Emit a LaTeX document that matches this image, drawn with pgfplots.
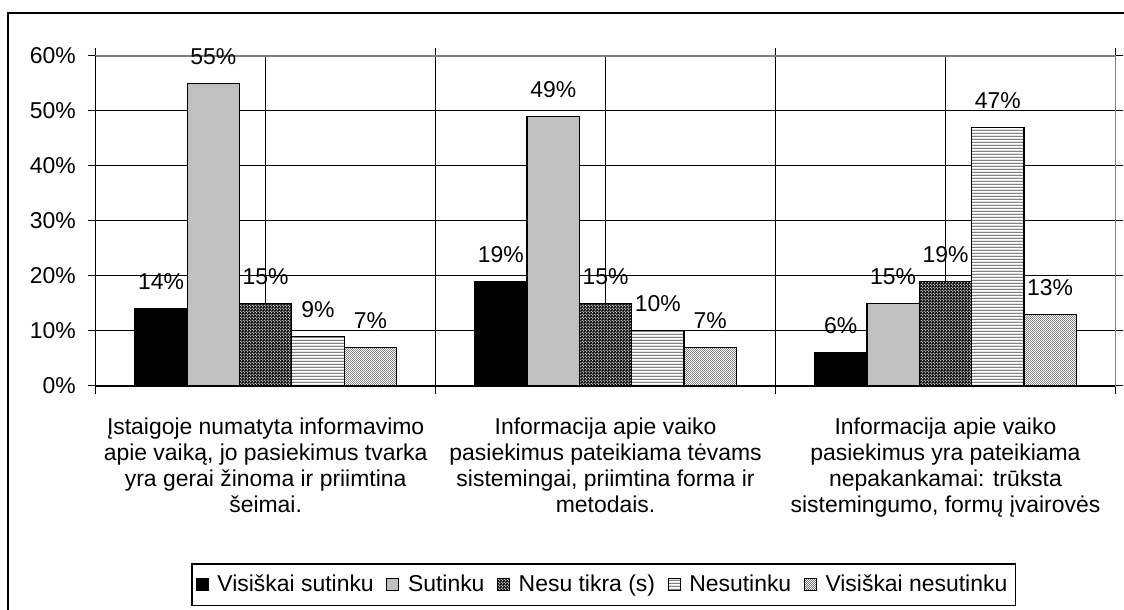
\documentclass[border=0pt]{standalone}
\usepackage{pgfplots}
\pgfplotsset{compat=1.18}
\usepackage{fontspec}
\setmainfont{Liberation Sans}
\usetikzlibrary{patterns,patterns.meta}

\tikzdeclarepattern{name=densecross,type=uncolored,
  bottom left={(0,0)},top right={(1.6bp,1.6bp)},tile size={(1.6bp,1.6bp)},
  code={\draw[line width=0.5bp] (0,0)--(1.6bp,1.6bp) (0,1.6bp)--(1.6bp,0);}}
\tikzdeclarepattern{name=denselines,type=uncolored,
  bottom left={(0,0)},top right={(1bp,1.7bp)},tile size={(1bp,1.7bp)},
  code={\draw[line width=0.45bp] (0,0.4bp)--(1bp,0.4bp);}}
\tikzdeclarepattern{name=finedots,type=uncolored,
  bottom left={(0,0)},top right={(1.2bp,1.2bp)},tile size={(1.2bp,1.2bp)},
  code={\fill (0.3bp,0.3bp) circle (0.32bp); \fill (0.9bp,0.9bp) circle (0.32bp);}}

% values in percent
\pgfplotstableread{
x v1 v2 v3 v4 v5
0 14 55 15 9 7
1 19 49 15 10 7
2 6 15 19 47 13
}\datatab

\begin{document}
\begin{tikzpicture}[font=\fontsize{11.5bp}{13bp}\selectfont]
\begin{axis}[
  scale only axis, width=511.5bp, height=165.5bp,
  xmin=-0.5, xmax=2.5, ymin=0, ymax=60,
  ybar=0pt, bar width=0.154,
  xtick={0,1,2},
  xticklabels={{Įstaigoje numatyta informavimo\\apie vaiką, jo pasiekimus tvarka\\yra gerai žinoma ir priimtina\\šeimai.},
    {Informacija apie vaiko\\pasiekimus pateikiama tėvams\\sistemingai, priimtina forma ir\\metodais.},
    {Informacija apie vaiko\\pasiekimus yra pateikiama\\nepakankamai: trūksta\\sistemingumo, formų įvairovės}},
  xticklabel style={align=center, yshift=-8.5bp, font=\fontsize{11.5bp}{13bp}\selectfont},
  major x tick style={draw=none},
  minor xtick={-0.5,0.5,1.5,2.5},
  minor x tick style={black, line width=0.6bp},
  xmajorgrids, xminorgrids,
  ytick={0,10,...,60},
  yticklabel={\pgfmathprintnumber{\tick}\%},
  yticklabel style={xshift=-2.5bp},
  /pgf/number format/assume math mode=true,
  ymajorgrids,
  grid style={black, line width=0.6bp},
  tick align=outside, major tick length=4bp, minor tick length=4bp,
  y tick style={black, line width=0.6bp},
  axis line style={draw=gray, line width=0.8bp},
  nodes near coords={\pgfmathprintnumber{\pgfplotspointmeta}\%},
  every node near coord/.append style={anchor=center, yshift=13.5bp, font=\fontsize{11.5bp}{13bp}\selectfont},
  clip=false,
  legend columns=5,
  legend style={at={(0.498,-0.538)}, anchor=north, draw=black, line width=0.8bp,
    font=\fontsize{11.5bp}{13bp}\selectfont, inner ysep=3.5bp, inner xsep=2bp,
    /tikz/every odd column/.append style={column sep=2.5bp},
    /tikz/every even column/.append style={column sep=4.3bp}},
  legend image code/.code={\draw[#1, line width=0.4bp] (0bp,-3bp) rectangle (6bp,3bp);},
  legend cell align=left,
]
\addplot[draw=black, fill=black, line width=0.6bp] table[x=x,y=v1] {\datatab};
\addplot[draw=black, fill={rgb,255:red,192;green,192;blue,192}, line width=0.6bp] table[x=x,y=v2] {\datatab};
\addplot[draw=black, fill=white, postaction={pattern=densecross}, line width=0.6bp] table[x=x,y=v3] {\datatab};
\addplot[draw=black, fill=white, postaction={pattern=denselines, pattern color=black!75}, line width=0.6bp] table[x=x,y=v4] {\datatab};
\addplot[draw=black, fill=white, postaction={pattern=finedots, pattern color=black!55}, line width=0.6bp] table[x=x,y=v5] {\datatab};
\legend{Visiškai sutinku, Sutinku, Nesu tikra (s), Nesutinku, Visiškai nesutinku}
\draw[gray, line width=0.8bp] (rel axis cs:0,1) -- (rel axis cs:1,1) -- (rel axis cs:1,0);
\draw[black, line width=0.8bp] (rel axis cs:0,1) -- (rel axis cs:0,0) -- (rel axis cs:1,0);
\end{axis}
% outer chart frame and page extent
\begin{pgfinterruptboundingbox}
\draw[black, line width=1bp] (-44bp,-130bp) -- (-44bp,187bp) -- (530bp,187bp);
\end{pgfinterruptboundingbox}
\useasboundingbox (-48bp,-112bp) rectangle (514bp,193.5bp);
\end{tikzpicture}
\end{document}
